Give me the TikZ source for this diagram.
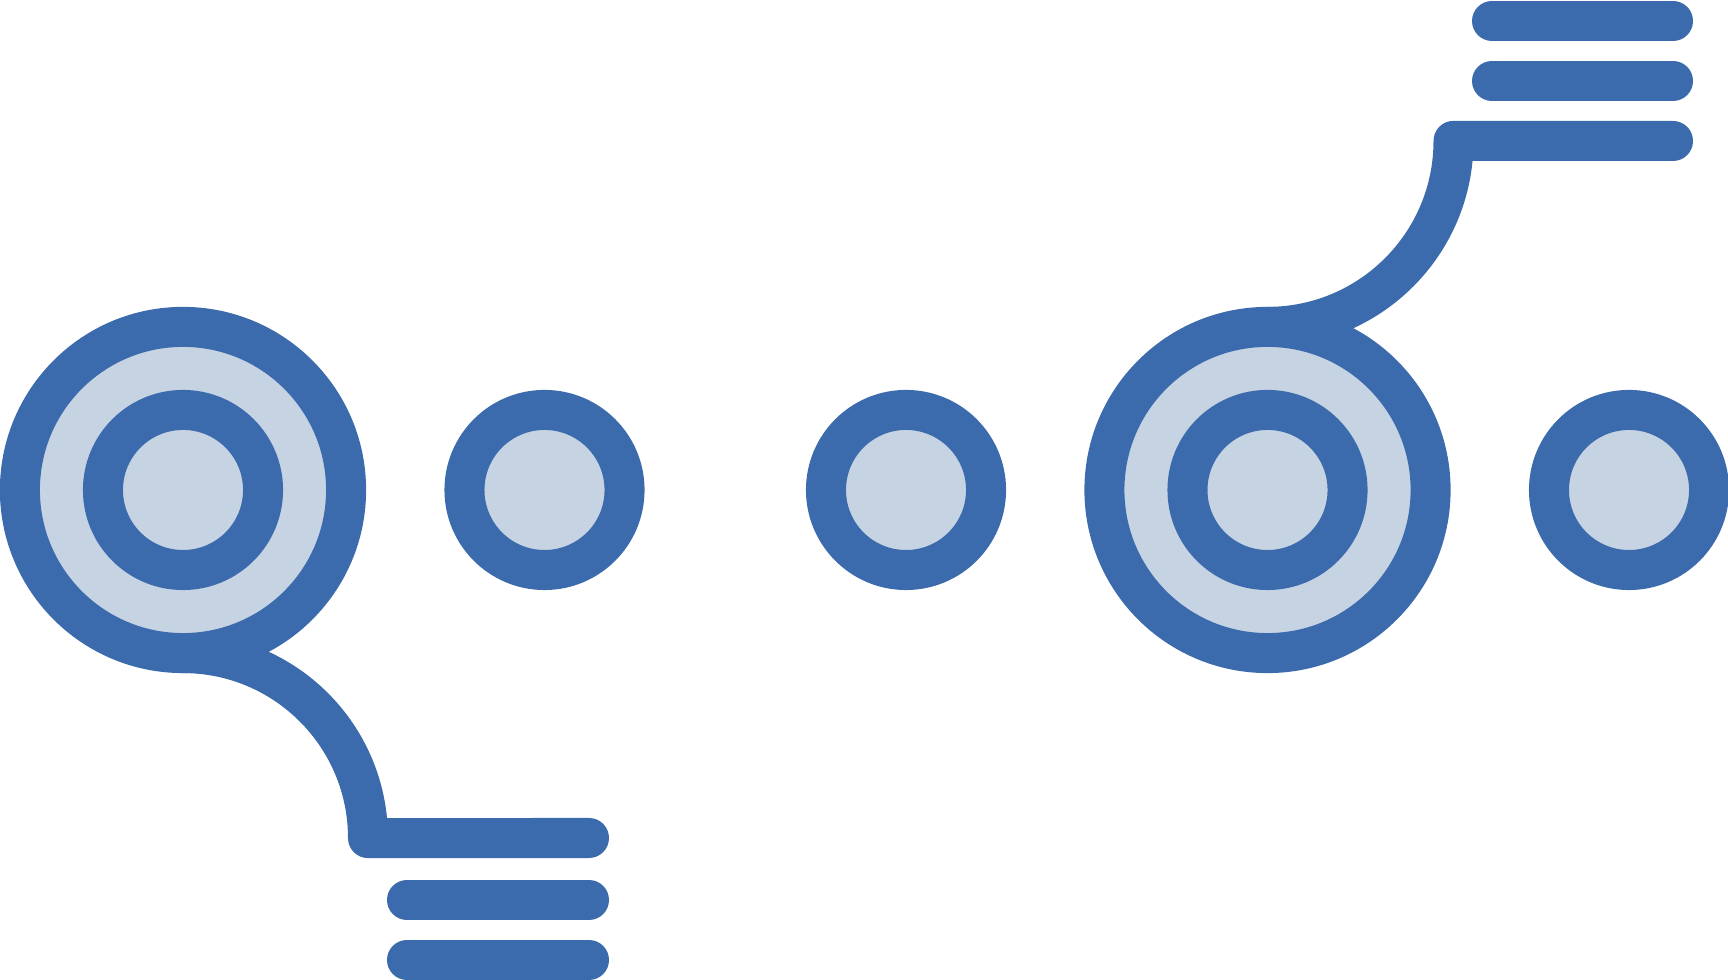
\documentclass[tikz,border=0pt]{standalone}
\usetikzlibrary{positioning}

\definecolor{iconblue}{RGB}{60,107,173}
\definecolor{iconfill}{RGB}{198,211,227}

\tikzset{
  ring/.style={circle, draw=iconblue, fill=iconfill, line width=4mm, inner sep=0pt, outer sep=0pt},
  bigring/.style={ring, minimum size=3.26cm},
  smallring/.style={ring, minimum size=1.6cm},
  stroke/.style={draw=iconblue, line width=4mm, line cap=round, line join=round},
}

\begin{document}
\begin{tikzpicture}[x=0.01cm, y=0.01cm]
    \useasboundingbox (0,0) rectangle (1728,980);
    %% timeline circles
    \node[bigring] (big1) at (183,490) {};
    \node[smallring] (core1) at (big1) {};
    \node[smallring] (dot1) at (544.5,490) {};
    \node[smallring] (dot2) at (906,490) {};
    \node[bigring] (big2) at (1267.5,490) {};
    \node[smallring] (core2) at (big2) {};
    \node[smallring] (dot3) at (1629,490) {};
    %% lower callout
    \coordinate (tail1) at (589,142);
    \coordinate (text1a) at (407,80);
    \coordinate (text1b) at (589,80);
    \coordinate (text2a) at (407,20);
    \coordinate (text2b) at (589,20);
    % curve down from the first circle, then along
    \draw[stroke] (big1.south) arc[start angle=90, end angle=0, radius=185] -- (tail1);
    \draw[stroke] (text1a) -- (text1b);
    \draw[stroke] (text2a) -- (text2b);
    %% upper callout
    \coordinate (tail2) at (1673,839);
    \coordinate (text3a) at (1492,899);
    \coordinate (text3b) at (1673,899);
    \coordinate (text4a) at (1492,959);
    \coordinate (text4b) at (1673,959);
    % curve up from the fourth circle, then along
    \draw[stroke] (big2.north) arc[start angle=-90, end angle=0, radius=186] -- (tail2);
    \draw[stroke] (text3a) -- (text3b);
    \draw[stroke] (text4a) -- (text4b);
\end{tikzpicture}
\end{document}
